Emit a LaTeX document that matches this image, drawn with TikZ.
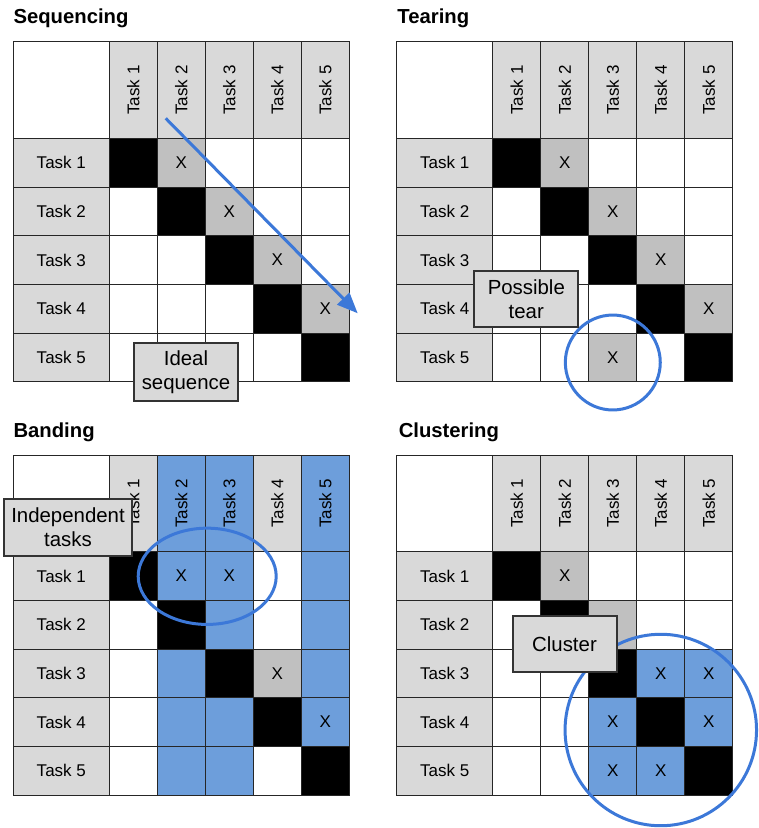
\documentclass[tikz,border=0pt]{standalone}
\usepackage{fontspec}
\setmainfont{Liberation Sans}
\usetikzlibrary{arrows.meta}
\definecolor{hdrgray}{HTML}{D9D9D9}
\definecolor{xgray}{HTML}{C0C0C0}
\definecolor{bandblue}{HTML}{6D9EDB}
\definecolor{ringblue}{HTML}{3C78D8}
\definecolor{gridc}{HTML}{262626}
\definecolor{boxedge}{HTML}{333333}

\newcommand\cellnode[7]{%
  \pgfmathsetmacro\cellcx{(#5==0) ? (#2+48) : (#2+72+48*#5)}%
  \pgfmathsetmacro\cellcy{(#4==0) ? (#3+48.33) : (#3+72.33+48.67*#4)}%
  \node[dsmcell,#6] (#1-#4-#5) at (\cellcx,\cellcy) {#7};%
}
\newcommand\basegrid[3]{%
  \cellnode{#1}{#2}{#3}{0}{0}{corner}{}%
  \foreach \k in {1,...,5}{%
    \cellnode{#1}{#2}{#3}{0}{\k}{colhead}{\rotatebox{90}{Task \k}}%
    \cellnode{#1}{#2}{#3}{\k}{0}{rowhead}{Task \k}%
    \foreach \j in {1,...,5}{\cellnode{#1}{#2}{#3}{\k}{\j}{}{}}%
  }%
  \foreach \k in {1,...,5}{\cellnode{#1}{#2}{#3}{\k}{\k}{diag}{}}%
}

\begin{document}
\begin{tikzpicture}[x=0.75pt,y=-0.75pt,
  dsmcell/.style={draw=gridc, line width=0.75pt, inner sep=0pt, outer sep=0pt,
    minimum width=36pt, minimum height=36.5pt, fill=white,
    font=\fontsize{12.75}{15}\selectfont},
  colhead/.style={fill=hdrgray, minimum height=72.5pt},
  rowhead/.style={fill=hdrgray, minimum width=72pt},
  corner/.style={fill=white, minimum width=72pt, minimum height=72.5pt},
  diag/.style={fill=black},
  xcell/.style={fill=xgray},
  bcell/.style={fill=bandblue},
  callout/.style={draw=boxedge, line width=1.5pt, fill=hdrgray, inner sep=0pt,
    align=center, font=\fontsize{15.3}{18}\selectfont},
  ring/.style={draw=ringblue, line width=2.25pt},
  title/.style={font=\fontsize{15.2}{18}\selectfont\bfseries, anchor=base west, inner sep=0pt}]
\useasboundingbox (0,0) rectangle (759,828);

% titles
\node[title] (tSQ) at (13.3,23.3) {Sequencing};
\node[title] (tTR) at (397.2,23.3) {Tearing};
\node[title] (tBD) at (13.3,437.7) {Banding};
\node[title] (tCL) at (398.5,437.7) {Clustering};

% Sequencing
\basegrid{SQ}{13.3}{41.7}
\foreach \r/\c in {1/2,2/3,3/4,4/5}{\cellnode{SQ}{13.3}{41.7}{\r}{\c}{xcell}{X}}

% Tearing
\basegrid{TR}{396.7}{41.7}
\foreach \r/\c in {1/2,2/3,3/4,4/5,5/3}{\cellnode{TR}{396.7}{41.7}{\r}{\c}{xcell}{X}}

% Banding
\basegrid{BD}{13.3}{455}
\foreach \c in {2,3,5}{%
  \cellnode{BD}{13.3}{455}{0}{\c}{colhead,bcell}{\rotatebox{90}{Task \c}}%
  \foreach \r in {1,...,5}{\cellnode{BD}{13.3}{455}{\r}{\c}{bcell}{}}%
}
\foreach \k in {2,3,5}{\cellnode{BD}{13.3}{455}{\k}{\k}{diag}{}}
\foreach \r/\c in {1/2,1/3,4/5}{\cellnode{BD}{13.3}{455}{\r}{\c}{bcell}{X}}
\cellnode{BD}{13.3}{455}{3}{4}{xcell}{X}

% Clustering
\basegrid{CL}{396.7}{455}
\cellnode{CL}{396.7}{455}{1}{2}{xcell}{X}
\cellnode{CL}{396.7}{455}{2}{3}{xcell}{}
\foreach \r/\c in {3/4,3/5,4/3,4/5,5/3,5/4}{\cellnode{CL}{396.7}{455}{\r}{\c}{bcell}{X}}

% arrow and rings
\coordinate (seqA) at (165.7,118.3);
\coordinate (seqB) at (357.7,313.3);
\draw[ringblue, line width=2.25pt, -{Triangle[length=15.5pt,width=12.5pt]}] (seqA) -- (seqB);
\coordinate (tearC) at (612.8,362.5);
\draw[ring] (tearC) circle [radius=35.6pt];
\coordinate (bandC) at (207.2,576.3);
\draw[ring] (bandC) ellipse [x radius=51.75pt, y radius=36.1pt];
\coordinate (clusC) at (660.8,730);
\draw[ring] (clusC) circle [radius=71.8pt];

% callouts
\node[callout, minimum width=78.5pt, minimum height=43pt] (cIdeal) at (186,372) {Ideal\\sequence};
\node[callout, minimum width=78pt, minimum height=42.2pt] (cTear) at (526.3,299.2) {Possible\\tear};
\node[callout, minimum width=95.5pt, minimum height=42.3pt] (cIndep) at (68,527.5) {Independent\\tasks};
\node[callout, minimum width=78pt, minimum height=42.2pt] (cClus) at (564.5,644.2) {Cluster};
\end{tikzpicture}
\end{document}
